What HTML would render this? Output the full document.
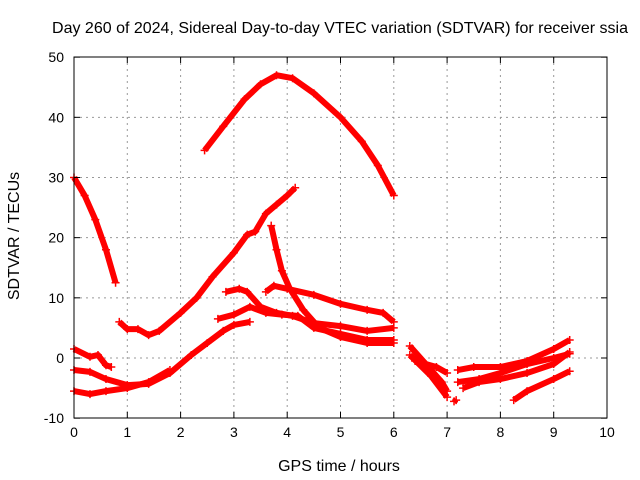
<!DOCTYPE html>
<html><head><meta charset="utf-8"><style>
body{margin:0;background:#fff}
svg{display:block;font-family:"Liberation Sans",sans-serif}
</style></head><body>
<svg id="c" width="640" height="480">
<text x="340" y="33" font-size="16" text-anchor="middle">Day 260 of 2024, Sidereal Day-to-day VTEC variation (SDTVAR) for receiver ssia</text>
<text x="339" y="471" font-size="16" text-anchor="middle">GPS time / hours</text>
<text transform="translate(19,236) rotate(-90)" font-size="16" text-anchor="middle">SDTVAR / TECUs</text>
<g id="grid"></g><g id="marks"></g>
<rect x="74" y="57" width="533" height="361" fill="none" stroke="#000"/>
</svg>
<script>
const xTicks=[0,1,2,3,4,5,6,7,8,9,10];
const yTicks=[-10,0,10,20,30,40,50];
const s1=[[0,30],[0.2,27],[0.4,23],[0.6,18],[0.78,12.5]];
const s2=[[2.45,34.5],[2.8,38.5],[3.2,43],[3.5,45.5],[3.8,47],[4.1,46.5],[4.5,44],[5,40],[5.4,36],[5.7,32],[6,27]];
const s3=[[0.85,6],[1,4.8],[1.2,4.8],[1.4,3.8],[1.6,4.5],[2,7.5],[2.3,10],[2.6,13.5],[3,17.5],[3.25,20.5],[3.4,21],[3.6,24],[3.8,25.5],[4,27],[4.15,28.3]];
const s4=[[3.7,22],[3.8,18],[3.9,14.5],[4.05,11.5],[4.3,8],[4.6,5],[5,3.5],[5.5,2.5],[6,2.5]];
const s5=[[3.6,11],[3.75,12],[4,11.5],[4.5,10.5],[5,9],[5.5,8],[5.8,7.5],[6,6]];
const s6=[[2.85,11],[3.1,11.5],[3.25,11],[3.5,8.5],[3.8,7.5],[4.1,7],[4.5,5.8],[5,5.3],[5.5,4.5],[6,5]];
const s7=[[2.7,6.5],[3,7.2],[3.3,8.5],[3.6,7.5],[3.9,7.2],[4.2,7],[4.5,5],[5,4],[5.5,3],[6,3]];
const s8=[[0,-2],[0.3,-2.3],[0.6,-3.5],[1,-4.5],[1.4,-4.3],[1.8,-2.5],[2.2,0.5],[2.5,2.5],[2.8,4.5],[3,5.5],[3.3,6]];
const s9=[[0,-5.5],[0.3,-6],[0.6,-5.5],[1,-5],[1.4,-4],[1.8,-2]];
const s10=[[0,1.5],[0.3,0.2],[0.45,0.5],[0.6,-1.2],[0.7,-1.5]];
const s11=[[6.3,2],[6.6,-1],[6.9,-4],[7,-5.5]];
const s12=[[6.3,0.5],[6.7,-3],[7,-6.5]];
const s13=[[6.4,-0.5],[6.8,-1.5],[7,-2.5]];
const s14=[[7.2,-2],[7.5,-1.5],[8,-1.5],[8.5,-0.5],[9,1.5],[9.3,3]];
const s15=[[7.2,-4],[7.6,-3.5],[8,-2.5],[8.5,-1],[9,0],[9.3,0.7]];
const s16=[[7.3,-5],[7.6,-4],[8,-3.5],[8.5,-2.5],[9,-1],[9.3,1]];
const s17=[[8.25,-7],[8.5,-5.5],[9,-3.5],[9.3,-2.2]];
const s18=[[7.13,-7.2],[7.17,-7]];
const series=[s1,s2,s3,s4,s5,s6,s7,s8,s9,s10,s11,s12,s13,s14,s15,s16,s17,s18];
const X=h=>74+h*53.3, Y=v=>358-v*6.017;
const NS="http://www.w3.org/2000/svg";
const svg=document.getElementById('c'),grid=document.getElementById('grid'),marks=document.getElementById('marks');
function mk(t,a,p){const e=document.createElementNS(NS,t);for(const k in a)e.setAttribute(k,a[k]);p.appendChild(e);return e;}
xTicks.forEach(t=>{
 if(t>0&&t<10){const l=mk('line',{x1:X(t),x2:X(t),y1:57,y2:418,stroke:'#999','stroke-dasharray':'2,4'},grid);
 
 }
 const tx=mk('text',{x:X(t),y:437,'font-size':14,'text-anchor':'middle'},svg);tx.textContent=t;
 
 
 mk('line',{x1:X(t),x2:X(t),y1:418,y2:412,stroke:'#000'},svg);mk('line',{x1:X(t),x2:X(t),y1:57,y2:63,stroke:'#000'},svg);
});
yTicks.forEach(t=>{
 if(t>-10&&t<50){const l=mk('line',{x1:74,x2:607,y1:Y(t),y2:Y(t),stroke:'#999','stroke-dasharray':'2,4'},grid);
 
 }
 const tx=mk('text',{x:64,y:Y(t)+5,'font-size':14,'text-anchor':'end'},svg);tx.textContent=t;
 
 
 mk('line',{x1:74,x2:80,y1:Y(t),y2:Y(t),stroke:'#000'},svg);mk('line',{x1:607,x2:601,y1:Y(t),y2:Y(t),stroke:'#000'},svg);
});
series.forEach((s,i)=>{
 const g=mk('g',{},marks);
 
 
 mk('polyline',{points:s.map(p=>X(p[0])+','+Y(p[1])).join(' '),fill:'none',stroke:'#f00','stroke-width':6,'stroke-linejoin':'round'},g);
 s.forEach(p=>{const x=X(p[0]),y=Y(p[1]);
  mk('path',{d:`M${x-4},${y}h8M${x},${y-4}v8`,stroke:'#f00','stroke-width':1.5},g);});
});
</script>
</body></html>
